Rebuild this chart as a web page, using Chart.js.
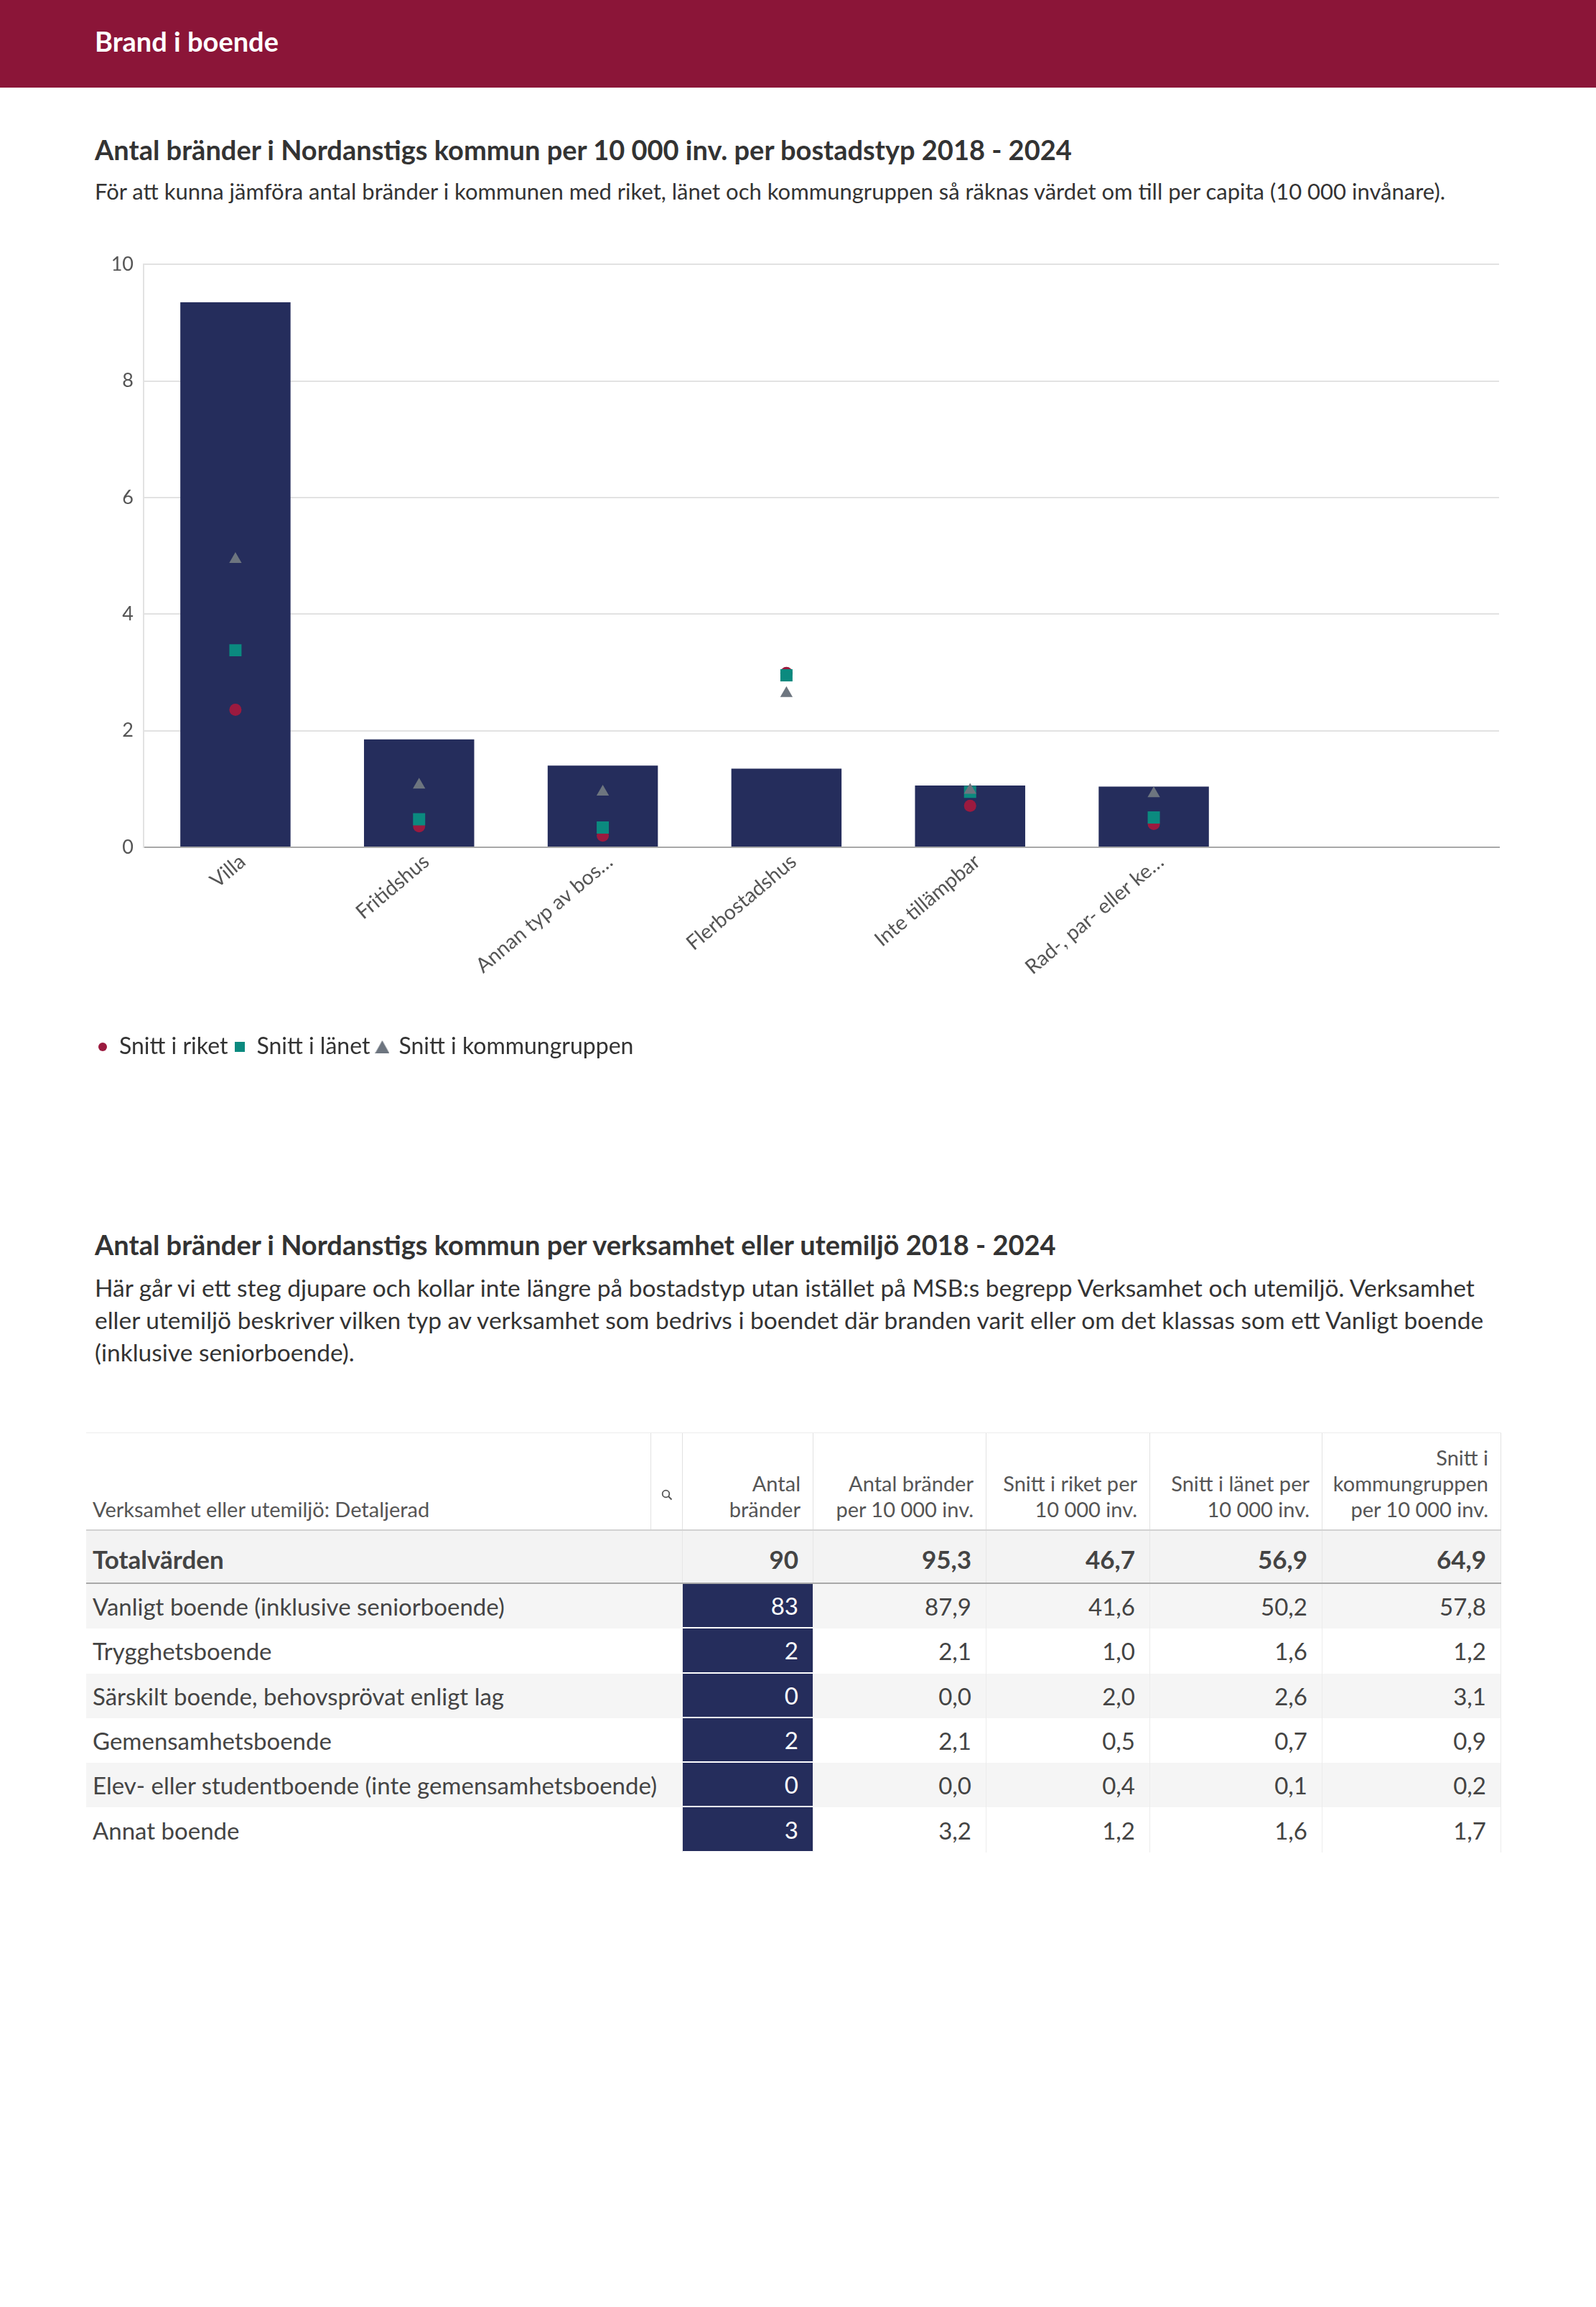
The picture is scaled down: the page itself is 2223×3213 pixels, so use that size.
<!DOCTYPE html>
<html lang="sv">
<head>
<meta charset="utf-8">
<title>Brand i boende</title>
<script src="https://cdn.jsdelivr.net/npm/chart.js@4.4.1/dist/chart.umd.min.js"></script>
<style>
  body { margin: 0; background: #fff; font-family: Lato, "Open Sans", sans-serif; color: #3b3b3b; }
  .page { position: relative; width: 2223px; height: 3213px; }
  .band { position: absolute; left: 0; top: 0; width: 2223px; height: 122px; background: #8b1538; }
  .band h1 { position: absolute; left: 132px; top: 34px; margin: 0; font-size: 38px; line-height: 46px; font-weight: 700; color: #fff; }
  .title { position: absolute; left: 132px; margin: 0; font-size: 38px; line-height: 46px; font-weight: 700; color: #333; white-space: nowrap; }
  .sub { position: absolute; left: 132px; margin: 0; font-size: 31px; line-height: 37px; color: #333; white-space: nowrap; }
  .para { position: absolute; left: 132px; margin: 0; font-size: 33.5px; line-height: 45px; color: #333; white-space: nowrap; }
  #chartBox { position: absolute; left: 126px; top: 338px; width: 1974px; height: 1146px; }
  .tbl { position: absolute; left: 120px; top: 1995px; width: 1971px; }
  .row { display: flex; box-sizing: border-box; }
  .cell { box-sizing: border-box; padding: 0 20px; text-align: right; white-space: nowrap; }
  .head { height: 137px; border-top: 1px solid #ececec; border-bottom: 2px solid #d2d2d2; }
  .head .cell { display: flex; flex-direction: column; justify-content: flex-end; padding: 0 17px 10px 0; font-size: 29px; line-height: 36px; color: #555; border-right: 1px solid #e2e2e2; }
  .head .cell:first-child { text-align: left; padding-left: 9px; }
  .total { height: 74px; background: #f3f3f3; border-bottom: 2px solid #a9a9a9; }
  .total .cell { display: flex; align-items: center; justify-content: flex-end; font-size: 35px; font-weight: 700; color: #444; padding-top: 6px; border-right: 1px solid #e6e6e6; }
  .total .cell:first-child { justify-content: flex-start; padding-left: 9px; }
  .data { height: 62.3px; }
  .data:nth-child(odd) { background: #f5f5f5; }
  .data .cell { display: flex; align-items: center; justify-content: flex-end; font-size: 33px; color: #444; border-right: 1px solid #ececec; }
  .data .cell:first-child { justify-content: flex-start; padding-left: 9px; }
  .data .cell.hi { background: #252d5c; color: #fff; border-bottom: 2px solid #fff; }
</style>
</head>
<body>
<div class="page">
  <div class="band"><h1>Brand i boende</h1></div>

  <h2 class="title" style="top:185px">Antal bränder i Nordanstigs kommun per 10 000 inv. per bostadstyp 2018 - 2024</h2>
  <p class="sub" style="top:248px">För att kunna jämföra antal bränder i kommunen med riket, länet och kommungruppen så räknas värdet om till per capita (10 000 invånare).</p>

  <div id="chartBox"><canvas id="chartBars"></canvas></div>

  <h2 class="title" style="top:1710px">Antal bränder i Nordanstigs kommun per verksamhet eller utemiljö 2018 - 2024</h2>
  <p class="para" style="top:1771px">Här går vi ett steg djupare och kollar inte längre på bostadstyp utan istället på MSB:s begrepp Verksamhet och utemiljö. Verksamhet<br>eller utemiljö beskriver vilken typ av verksamhet som bedrivs i boendet där branden varit eller om det klassas som ett Vanligt boende<br>(inklusive seniorboende).</p>

  <div class="tbl" id="tbl"></div>
</div>

<script>
// Diagram: bränder per bostadstyp
var categories = ['Villa', 'Fritidshus', 'Annan typ av bostad', 'Flerbostadshus', 'Inte tillämpbar', 'Rad-, par- eller kedjehus'];
var tickLabels = ['Villa', 'Fritidshus', 'Annan typ av bos…', 'Flerbostadshus', 'Inte tillämpbar', 'Rad-, par- eller ke…'];
var kommunValues = [9.35, 1.85, 1.40, 1.35, 1.06, 1.04];
var riketValues = [2.36, 0.36, 0.20, 2.99, 0.71, 0.40];
var lanetValues = [3.38, 0.48, 0.34, 2.95, 0.95, 0.51];
var gruppValues = [4.94, 1.07, 0.95, 2.64, 0.98, 0.92];
var yTicks = [0, 2, 4, 6, 8, 10];

// Tabell: verksamhet eller utemiljö
var tableHeaders = ['Verksamhet eller utemiljö: Detaljerad', '', 'Antal<br>bränder', 'Antal bränder<br>per 10 000 inv.', 'Snitt i riket per<br>10 000 inv.', 'Snitt i länet per<br>10 000 inv.', 'Snitt i<br>kommungruppen<br>per 10 000 inv.'];
var tableTotal = ['Totalvärden', '90', '95,3', '46,7', '56,9', '64,9'];
var rowNames = ['Vanligt boende (inklusive seniorboende)', 'Trygghetsboende', 'Särskilt boende, behovsprövat enligt lag', 'Gemensamhetsboende', 'Elev- eller studentboende (inte gemensamhetsboende)', 'Annat boende'];
var rowAntal = ['83', '2', '0', '2', '0', '3'];
var rowPer10k = ['87,9', '2,1', '0,0', '2,1', '0,0', '3,2'];
var rowRiket = ['41,6', '1,0', '2,0', '0,5', '0,4', '1,2'];
var rowLanet = ['50,2', '1,6', '2,6', '0,7', '0,1', '1,6'];
var rowGrupp = ['57,8', '1,2', '3,1', '0,9', '0,2', '1,7'];

var colWidths = [787, 44, 182, 241, 228, 240, 249];

var colRiket = '#9b1a3f';
var colLanet = '#0b8a7f';
var colGrupp = '#6d757f';

function toPoints(values) {
    return values.map(function (v, i) { return { x: i, y: v }; });
}

// small canvases used as legend symbols
function marker(shape, color, w, h) {
    var c = document.createElement('canvas');
    c.width = w;
    c.height = h;
    var g = c.getContext('2d');
    g.fillStyle = color;
    g.beginPath();
    if (shape === 'circle') {
        g.arc(w / 2, h / 2, w / 2, 0, Math.PI * 2);
    } else if (shape === 'rect') {
        g.rect(0, 0, w, h);
    } else {
        g.moveTo(w / 2, 0);
        g.lineTo(w, h);
        g.lineTo(0, h);
        g.closePath();
    }
    g.fill();
    return c;
}

var legendMarkers = [marker('circle', colRiket, 12, 12), marker('rect', colLanet, 14, 14), marker('triangle', colGrupp, 20, 18)];

function chartBars() {
    var ctx = document.getElementById('chartBars').getContext('2d');
    new Chart(ctx, {
        type: 'bar',
        data: {
            datasets: [{
                type: 'scatter',
                label: 'Snitt i riket',
                data: toPoints(riketValues),
                pointStyle: 'circle',
                pointRadius: 8.5,
                backgroundColor: colRiket,
                borderWidth: 0,
                order: 3
            }, {
                type: 'scatter',
                label: 'Snitt i länet',
                data: toPoints(lanetValues),
                pointStyle: 'rect',
                pointRadius: 12,
                backgroundColor: colLanet,
                borderWidth: 0,
                order: 2
            }, {
                type: 'scatter',
                label: 'Snitt i kommungruppen',
                data: toPoints(gruppValues),
                pointStyle: 'triangle',
                pointRadius: 10,
                backgroundColor: colGrupp,
                borderWidth: 0,
                order: 1
            }, {
                type: 'bar',
                label: 'Nordanstig',
                data: toPoints(kommunValues),
                backgroundColor: '#252d5c',
                borderWidth: 0,
                barPercentage: 0.6,
                categoryPercentage: 1,
                order: 4
            }]
        },
        options: {
            responsive: true,
            maintainAspectRatio: false,
            animation: false,
            layout: { padding: { top: 20, left: 0, right: 0, bottom: 0 } },
            scales: {
                x: {
                    type: 'linear',
                    offset: false,
                    min: -0.5,
                    max: 6.88,
                    grid: { display: false },
                    border: { display: true, color: '#a8a8a8', width: 2 },
                    afterBuildTicks: function (axis) {
                        axis.ticks = categories.map(function (c, i) { return { value: i }; });
                    },
                    afterFit: function (scale) {
                        scale.height = 252;
                        scale.paddingLeft = 0;
                        scale.paddingRight = 0;
                    },
                    ticks: {
                        autoSkip: false,
                        maxRotation: 40,
                        minRotation: 40,
                        padding: -5,
                        labelOffset: 10,
                        color: '#555',
                        font: { family: 'Lato', size: 28.5 },
                        callback: function (v) { return tickLabels[v]; }
                    }
                },
                y: {
                    min: 0,
                    max: 10,
                    afterBuildTicks: function (axis) {
                        axis.ticks = yTicks.map(function (v) { return { value: v }; });
                    },
                    afterFit: function (scale) { scale.width = 74; },
                    grid: { color: '#e2e2e2', lineWidth: 2, drawTicks: false },
                    border: { display: true, color: '#e2e2e2', width: 2 },
                    ticks: {
                        padding: 14,
                        color: '#555',
                        font: { family: 'Lato', size: 27 }
                    }
                }
            },
            plugins: {
                tooltip: { enabled: false },
                legend: {
                    position: 'bottom',
                    align: 'start',
                    labels: {
                        usePointStyle: true,
                        boxHeight: 14,
                        boxWidth: 14,
                        padding: 10,
                        color: '#333',
                        font: { family: 'Lato', size: 32 },
                        generateLabels: function (chart) {
                            var items = Chart.defaults.plugins.legend.labels.generateLabels(chart);
                            items.forEach(function (it) {
                                if (it.datasetIndex < 3) {
                                    it.pointStyle = legendMarkers[it.datasetIndex];
                                }
                            });
                            return items;
                        },
                        filter: function (item) { return item.datasetIndex < 3; },
                        sort: function (a, b) { return a.datasetIndex - b.datasetIndex; }
                    }
                }
            }
        }
    });
}

function buildTable() {
    var html = '';
    var magnifier = '<svg width="16" height="16" viewBox="0 0 16 16" style="align-self:center;margin-bottom:40px"><circle cx="6.5" cy="6.5" r="4.8" fill="none" stroke="#555" stroke-width="1.8"/><line x1="10" y1="10" x2="14.5" y2="14.5" stroke="#555" stroke-width="2"/></svg>';

    html += "<div class='row head'>";
    tableHeaders.forEach(function (h, i) {
        var content = i === 1 ? magnifier : '<div>' + h + '</div>';
        var pad = i === 1 ? "padding:0;align-items:center;" : '';
        html += "<div class='cell' style='width:" + colWidths[i] + "px;" + pad + "'>" + content + "</div>";
    });
    html += "</div>";

    html += "<div class='row total'>";
    html += "<div class='cell' style='width:" + (colWidths[0] + colWidths[1]) + "px'>" + tableTotal[0] + "</div>";
    for (var t = 1; t < tableTotal.length; t++) {
        html += "<div class='cell' style='width:" + colWidths[t + 1] + "px'>" + tableTotal[t] + "</div>";
    }
    html += "</div>";

    html += "<div class='rows'>";
    rowNames.forEach(function (name, r) {
        var vals = [rowAntal[r], rowPer10k[r], rowRiket[r], rowLanet[r], rowGrupp[r]];
        html += "<div class='row data'>";
        html += "<div class='cell' style='width:" + (colWidths[0] + colWidths[1]) + "px'>" + name + "</div>";
        vals.forEach(function (v, k) {
            html += "<div class='cell" + (k === 0 ? " hi" : "") + "' style='width:" + colWidths[k + 2] + "px'>" + v + "</div>";
        });
        html += "</div>";
    });
    html += "</div>";

    document.getElementById('tbl').innerHTML = html;
}

buildTable();
chartBars();
</script>
</body>
</html>
